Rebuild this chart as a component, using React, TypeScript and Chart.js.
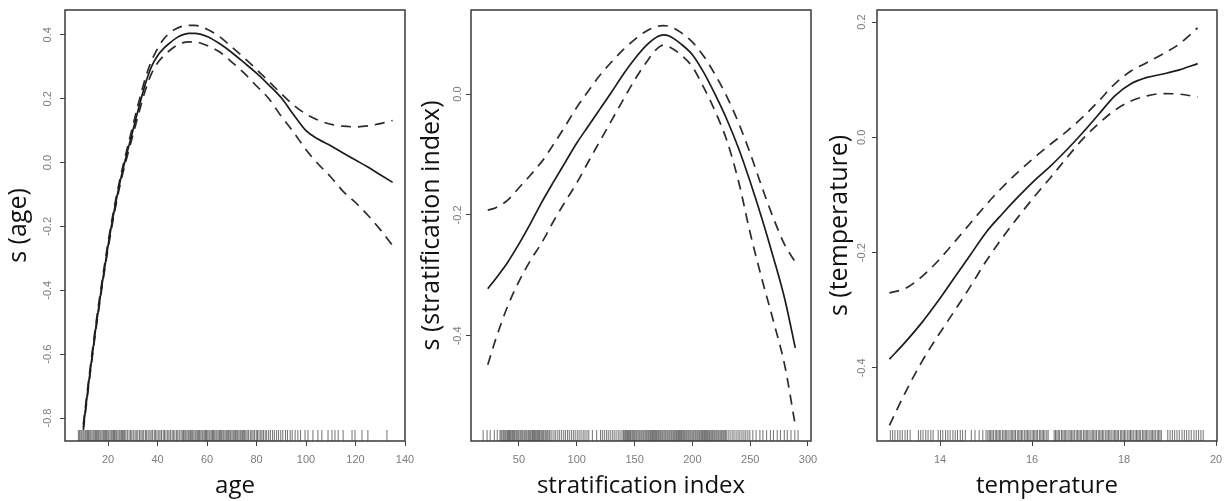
import React, { useEffect, useRef } from 'react';
import { Chart, registerables } from 'chart.js';

Chart.register(...registerables);

const W = 1229;
const H = 501;
const BOX_TOP = 10;
const BOX_BOTTOM = 441;
const AXIS_W = 60;

// ---------- Panel 1: age ----------
const ageX = [10, 12.5, 15, 17.5, 20, 22.5, 25, 27.5, 30, 32.5, 35, 37.5, 40, 42.5, 45, 47.5, 50, 52.5, 55, 60, 65, 70, 75, 80, 85, 90, 95, 100, 105, 110, 115, 120, 125, 130, 135];
const ageFit = [-0.83, -0.67, -0.52, -0.385, -0.26, -0.15, -0.055, 0.025, 0.1, 0.175, 0.245, 0.3, 0.335, 0.358, 0.375, 0.39, 0.4, 0.405, 0.405, 0.395, 0.373, 0.345, 0.313, 0.28, 0.243, 0.203, 0.15, 0.1, 0.073, 0.053, 0.03, 0.008, -0.014, -0.038, -0.062];
const ageUpper = [-0.82, -0.66, -0.51, -0.375, -0.25, -0.14, -0.045, 0.037, 0.115, 0.192, 0.263, 0.318, 0.357, 0.387, 0.407, 0.419, 0.427, 0.43, 0.43, 0.418, 0.395, 0.362, 0.328, 0.292, 0.254, 0.216, 0.18, 0.152, 0.133, 0.12, 0.114, 0.112, 0.115, 0.122, 0.132];
const ageLower = [-0.838, -0.678, -0.528, -0.393, -0.27, -0.16, -0.065, 0.013, 0.085, 0.157, 0.225, 0.278, 0.312, 0.335, 0.352, 0.366, 0.375, 0.378, 0.378, 0.367, 0.347, 0.315, 0.28, 0.24, 0.2, 0.145, 0.095, 0.04, -0.005, -0.045, -0.09, -0.125, -0.165, -0.21, -0.26];
const ageRug = [8, 8.5, 9, 9.4, 9.9, 10.3, 10.8, 11.2, 11.7, 12.1, 12.6, 13, 13.5, 14, 14.4, 14.9, 15.3, 15.8, 16.2, 16.7, 17.1, 17.6, 18.1, 18.5, 19, 19.4, 19.9, 20.3, 20.8, 21.3, 21.7, 22.2, 22.6, 23.1, 23.5, 24, 24.5, 24.9, 25.4, 25.8, 26.3, 26.7, 27.2, 27.8, 28.5, 29.1, 29.6, 30.2, 30.9, 31.4, 32, 32.7, 33.3, 33.8, 34.4, 35.1, 35.6, 36.2, 36.9, 37.4, 38, 38.7, 39.2, 39.8, 40.5, 41, 41.6, 42.3, 42.8, 43.4, 44.1, 44.6, 45.2, 45.9, 46.4, 47, 47.7, 48.2, 48.8, 49.5, 50, 50.5, 51, 51.4, 51.9, 52.4, 52.8, 53.3, 53.8, 54.2, 54.7, 55.2, 55.6, 56.1, 56.6, 57, 57.5, 58, 58.4, 58.9, 59.4, 59.8, 60.3, 60.8, 61.2, 61.7, 62.2, 62.6, 63.1, 63.6, 64, 64.5, 65, 65.4, 65.9, 66.4, 66.8, 67.3, 67.8, 68.2, 68.7, 69.2, 69.6, 70.1, 70.6, 71, 71.5, 72, 72.4, 72.9, 73.4, 73.8, 74.3, 74.8, 75.2, 75.7, 76.2, 76.8, 77.5, 78.1, 78.6, 79.2, 79.9, 80.4, 81, 81.7, 82.2, 82.8, 83.5, 84.1, 84.9, 85.6, 86.5, 87.2, 88.1, 88.9, 89.8, 90.6, 91.7, 92.5, 93.6, 94.4, 95.6, 96.7, 97.8, 99.6, 100.8, 102.8, 104.8, 106.4, 108.9, 110.5, 111.7, 113, 115, 118.6, 119.8, 122.6, 125, 132.7];

// ---------- Panel 2: stratification index ----------
const siX = [23, 30, 40, 50, 60, 70, 80, 90, 100, 110, 120, 130, 140, 150, 160, 170, 175, 180, 190, 200, 210, 220, 230, 240, 250, 260, 270, 280, 289];
const siFit = [-0.322, -0.305, -0.279, -0.248, -0.214, -0.178, -0.145, -0.113, -0.081, -0.053, -0.025, 0.003, 0.032, 0.058, 0.08, 0.095, 0.098, 0.096, 0.083, 0.065, 0.035, -0.002, -0.043, -0.09, -0.145, -0.205, -0.27, -0.34, -0.42];
const siUpper = [-0.192, -0.188, -0.176, -0.155, -0.134, -0.111, -0.083, -0.053, -0.022, 0.005, 0.031, 0.053, 0.073, 0.09, 0.104, 0.112, 0.113, 0.112, 0.102, 0.086, 0.062, 0.031, -0.005, -0.048, -0.098, -0.153, -0.205, -0.25, -0.278];
const siLower = [-0.448, -0.405, -0.352, -0.31, -0.275, -0.245, -0.21, -0.178, -0.147, -0.112, -0.078, -0.044, -0.01, 0.023, 0.052, 0.076, 0.081, 0.078, 0.065, 0.045, 0.01, -0.03, -0.078, -0.145, -0.23, -0.305, -0.375, -0.45, -0.548];
const siRug = [19, 22.4, 25.1, 28.7, 31.2, 33.6, 34.5, 35.3, 36.4, 37.2, 38.1, 39, 40.1, 40.9, 41.8, 42.6, 43.7, 44.5, 45.4, 46.2, 47.3, 48.1, 49, 49.8, 50.9, 51.7, 52.6, 53.4, 54.5, 55.3, 56.2, 57, 58.1, 58.9, 59.8, 60.6, 61.7, 62.5, 63.4, 64.2, 65.3, 66.1, 67, 67.8, 68.9, 69.7, 70.6, 71.4, 72.5, 73.3, 74.2, 75, 76.1, 76.9, 78.5, 80.3, 81.8, 83.6, 85.2, 86.9, 88.7, 90.2, 92, 93.5, 95.3, 97, 98.6, 100.4, 102, 103.7, 105.5, 107.1, 108.8, 110.4, 113.5, 117.2, 120.5, 122.1, 123.8, 125.6, 127.2, 128.9, 130.7, 132.3, 134, 135.8, 137.4, 139.1, 140.3, 141.1, 142.1, 142.9, 143.9, 144.7, 145.7, 146.5, 147.6, 148.4, 149.3, 150.1, 151.1, 151.9, 152.9, 153.8, 154.6, 155.6, 156.4, 157.4, 158.2, 159.2, 160.1, 160.9, 161.9, 162.7, 163.7, 164.5, 165.5, 166.3, 167.3, 168.2, 169, 170, 170.8, 171.8, 172.6, 173.6, 174.4, 175.4, 176.3, 177.1, 178.1, 178.9, 179.9, 180.7, 181.7, 182.5, 183.5, 184.4, 185.2, 186.2, 187, 188, 188.8, 189.8, 190.6, 191.6, 192.5, 193.3, 194.3, 195.1, 196.1, 196.9, 197.9, 198.7, 199.7, 200.6, 201.4, 202.4, 203.2, 204.2, 205, 206, 206.8, 207.8, 208.7, 209.5, 210.5, 211.3, 212.3, 213.1, 214.1, 214.9, 215.9, 216.8, 217.6, 218.6, 219.4, 220.4, 221.2, 222.2, 223, 224, 224.9, 225.7, 226.7, 227.5, 228.5, 229.3, 230.9, 232.6, 234.4, 236, 237.8, 239.5, 241.1, 242.9, 244.6, 246.2, 248, 249.7, 252.3, 255.1, 258.4, 261, 264.2, 267.5, 270.1, 273.4, 276.2, 279.5, 282.1, 285.3, 288.6, 291.4];

// ---------- Panel 3: temperature ----------
const tX = [12.9, 13.25, 13.6, 13.95, 14.3, 14.65, 15.0, 15.35, 15.7, 16.05, 16.4, 16.75, 17.1, 17.45, 17.8, 18.15, 18.5, 18.85, 19.2, 19.6];
const tFit = [-0.385, -0.355, -0.322, -0.285, -0.245, -0.205, -0.165, -0.133, -0.103, -0.075, -0.05, -0.022, 0.008, 0.04, 0.072, 0.093, 0.104, 0.11, 0.117, 0.128];
const tUpper = [-0.27, -0.262, -0.242, -0.215, -0.183, -0.15, -0.117, -0.087, -0.06, -0.035, -0.012, 0.01, 0.035, 0.063, 0.093, 0.115, 0.13, 0.145, 0.162, 0.19];
const tLower = [-0.5, -0.442, -0.39, -0.345, -0.303, -0.26, -0.215, -0.175, -0.138, -0.103, -0.07, -0.036, -0.003, 0.024, 0.047, 0.063, 0.072, 0.076, 0.075, 0.07];
const tRug = [12.92, 12.97, 13.02, 13.08, 13.13, 13.18, 13.24, 13.29, 13.35, 13.53, 13.58, 13.63, 13.69, 13.74, 13.8, 13.85, 13.96, 14.01, 14.06, 14.12, 14.17, 14.22, 14.28, 14.33, 14.38, 14.44, 14.49, 14.55, 14.68, 14.76, 14.85, 14.93, 15.0, 15.04, 15.07, 15.1, 15.13, 15.16, 15.2, 15.23, 15.26, 15.29, 15.32, 15.36, 15.39, 15.42, 15.45, 15.48, 15.52, 15.55, 15.58, 15.61, 15.64, 15.68, 15.71, 15.74, 15.77, 15.8, 15.84, 15.87, 15.9, 15.93, 15.96, 16, 16.03, 16.06, 16.09, 16.12, 16.16, 16.19, 16.22, 16.25, 16.28, 16.32, 16.35, 16.48, 16.51, 16.54, 16.57, 16.6, 16.64, 16.67, 16.7, 16.73, 16.76, 16.8, 16.83, 16.86, 16.89, 16.92, 16.96, 16.99, 17.02, 17.05, 17.08, 17.12, 17.15, 17.18, 17.21, 17.24, 17.28, 17.31, 17.34, 17.37, 17.4, 17.44, 17.47, 17.5, 17.53, 17.56, 17.6, 17.63, 17.66, 17.69, 17.72, 17.76, 17.79, 17.82, 17.85, 17.88, 17.92, 17.95, 17.98, 18.01, 18.04, 18.08, 18.11, 18.14, 18.17, 18.2, 18.24, 18.27, 18.3, 18.33, 18.36, 18.4, 18.43, 18.46, 18.49, 18.52, 18.56, 18.59, 18.62, 18.65, 18.68, 18.72, 18.75, 18.78, 18.81, 18.95, 19.0, 19.05, 19.1, 19.15, 19.2, 19.26, 19.31, 19.36, 19.41, 19.46, 19.52, 19.57, 19.62, 19.67, 19.72];

interface Panel {
  xs: number[];
  fit: number[];
  upper: number[];
  lower: number[];
  rug: number[];
  xMin: number;
  xMax: number;
  xStep: number;
  yMin: number;
  yMax: number;
  yStep: number;
  xTitle: string;
  yTitle: string;
  boxLeft: number;
  boxRight: number;
  yTitlePad: number;
  yTickPad: number;
}

const panels: Panel[] = [
  { xs: ageX, fit: ageFit, upper: ageUpper, lower: ageLower, rug: ageRug, xMin: 2.6, xMax: 140, xStep: 20, yMin: -0.872, yMax: 0.478, yStep: 0.2, xTitle: 'age', yTitle: 's (age)', boxLeft: 65, boxRight: 405, yTitlePad: 1.5, yTickPad: 3 },
  { xs: siX, fit: siFit, upper: siUpper, lower: siLower, rug: siRug, xMin: 8.5, xMax: 302.6, xStep: 50, yMin: -0.574, yMax: 0.139, yStep: 0.2, xTitle: 'stratification index', yTitle: 's (stratification index)', boxLeft: 471, boxRight: 811, yTitlePad: 8, yTickPad: -1 },
  { xs: tX, fit: tFit, upper: tUpper, lower: tLower, rug: tRug, xMin: 12.63, xMax: 20.02, xStep: 2, yMin: -0.527, yMax: 0.221, yStep: 0.2, xTitle: 'temperature', yTitle: 's (temperature)', boxLeft: 877, boxRight: 1217, yTitlePad: 10.5, yTickPad: 0.5 },
];

const boxPlugin = {
  id: 'rbox',
  afterDatasetsDraw(chart: any) {
    const { ctx, chartArea: a } = chart;
    ctx.save();
    ctx.strokeStyle = '#3a3a3a';
    ctx.lineWidth = 1.5;
    ctx.strokeRect(a.left, a.top, a.right - a.left, a.bottom - a.top);
    ctx.restore();
  },
};

const TICK_FONT = { family: '"Liberation Sans", Arial, sans-serif', size: 11 };
const TICK_COLOR = '#7c7c7c';
const RUG_COLOR = 'rgba(75,75,75,0.78)';

function makeConfig(p: Panel): any {
  const rugY = p.yMin + ((p.yMax - p.yMin) * 5.5) / (BOX_BOTTOM - BOX_TOP);
  const curve = (ys: number[], dashed: boolean) => ({
    data: p.xs.map((x, i) => ({ x, y: ys[i] })),
    showLine: true,
    borderColor: dashed ? '#2c2c2c' : '#1c1c1c',
    borderWidth: 1.7,
    borderDash: dashed ? [10, 7] : [],
    pointRadius: 0,
    pointHoverRadius: 0,
    cubicInterpolationMode: 'monotone',
    fill: false,
  });
  return {
    type: 'scatter',
    data: {
      datasets: [
        {
          data: p.rug.map((x) => ({ x, y: rugY })),
          showLine: false,
          pointStyle: 'line',
          pointRadius: 5.5,
          pointHoverRadius: 5.5,
          pointRotation: 90,
          borderColor: RUG_COLOR,
          pointBorderColor: RUG_COLOR,
          borderWidth: 1,
          pointBorderWidth: 1,
        },
        curve(p.fit, false),
        curve(p.upper, true),
        curve(p.lower, true),
      ],
    },
    options: {
      responsive: false,
      animation: false,
      events: [],
      layout: { padding: { left: p.boxLeft - AXIS_W, right: W - p.boxRight, top: BOX_TOP, bottom: 0 } },
      plugins: { legend: { display: false }, tooltip: { enabled: false }, title: { display: false } },
      scales: {
        x: {
          type: 'linear',
          position: 'bottom',
          min: p.xMin,
          max: p.xMax,
          afterFit: (s: any) => {
            s.height = H - BOX_BOTTOM;
            s.paddingLeft = 0;
            s.paddingRight = 0;
          },
          ticks: {
            stepSize: p.xStep,
            includeBounds: false,
            autoSkip: false,
            minRotation: 0,
            maxRotation: 0,
            color: TICK_COLOR,
            font: TICK_FONT,
            padding: 7,
            callback: (v: any) => String(Math.round(Number(v) * 100) / 100),
          },
          grid: { display: true, drawOnChartArea: false, drawTicks: true, tickLength: 5, color: '#444', lineWidth: 1 },
          border: { display: false },
          title: {
            display: true,
            text: p.xTitle,
            color: '#111',
            font: { family: '"Open Sans", "Noto Sans", sans-serif', size: 24, lineHeight: 1 },
            padding: { top: 0, bottom: 2.5 },
          },
        },
        y: {
          type: 'linear',
          position: 'left',
          min: p.yMin,
          max: p.yMax,
          afterFit: (s: any) => {
            s.width = AXIS_W;
            s.paddingTop = 0;
            s.paddingBottom = 0;
          },
          ticks: {
            stepSize: p.yStep,
            includeBounds: false,
            autoSkip: false,
            minRotation: 90,
            maxRotation: 90,
            crossAlign: 'center',
            color: TICK_COLOR,
            font: TICK_FONT,
            padding: p.yTickPad,
            callback: (v: any) => Number(v).toFixed(1),
          },
          grid: { display: true, drawOnChartArea: false, drawTicks: true, tickLength: 5, color: '#444', lineWidth: 1 },
          border: { display: false },
          title: {
            display: true,
            text: p.yTitle,
            color: '#111',
            font: { family: '"Open Sans", "Noto Sans", sans-serif', size: 25, lineHeight: 1 },
            padding: { top: p.yTitlePad, bottom: 0 },
          },
        },
      },
    },
    plugins: [boxPlugin],
  };
}

export default function App() {
  const refs = useRef<(HTMLCanvasElement | null)[]>([]);

  useEffect(() => {
    const charts: Chart[] = [];
    panels.forEach((p, i) => {
      const c = refs.current[i];
      if (c) charts.push(new Chart(c, makeConfig(p)));
    });
    return () => {
      charts.forEach((c) => c.destroy());
    };
  }, []);

  return (
    <div style={{ position: 'absolute', left: 0, top: 0, width: W, height: H, background: '#fff' }}>
      {panels.map((p, i) => (
        <canvas
          key={p.xTitle}
          ref={(el) => {
            refs.current[i] = el;
          }}
          width={W}
          height={H}
          style={{ position: 'absolute', left: 0, top: 0, width: W, height: H }}
        />
      ))}
    </div>
  );
}
